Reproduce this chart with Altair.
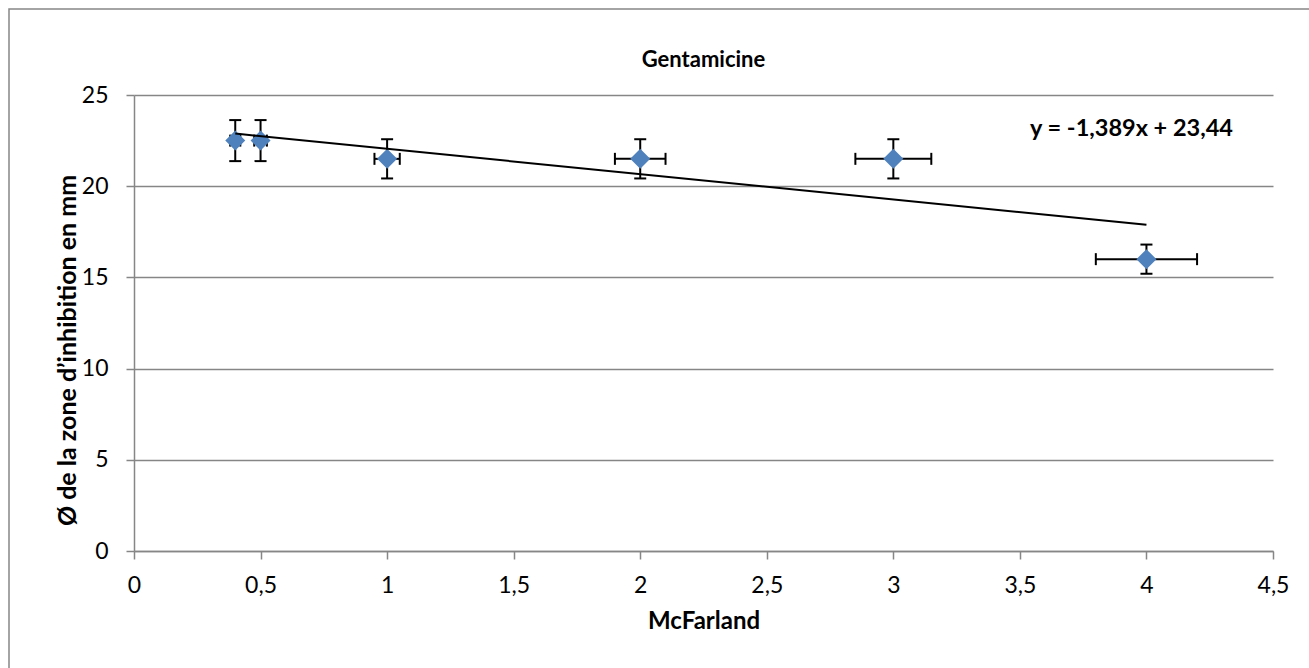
import altair as alt
import pandas as pd

# Data
mcfarland = [0.4, 0.5, 1, 2, 3, 4]
diametre = [22.5, 22.5, 21.5, 21.5, 21.5, 16]
err_x = [0.02, 0.025, 0.05, 0.1, 0.15, 0.2]
err_y = [1.125, 1.125, 1.075, 1.075, 1.075, 0.8]
x_ticks = [0, 0.5, 1, 1.5, 2, 2.5, 3, 3.5, 4, 4.5]
y_ticks = [0, 5, 10, 15, 20, 25]
chart_title = "Gentamicine"
x_title = "McFarland"
y_title = "Ø de la zone d’inhibition en mm"
equation = "y = -1,389x + 23,44"

df = pd.DataFrame({
    "x": mcfarland,
    "y": diametre,
    "ex": err_x,
    "ey": err_y,
})
df["xlo"] = df["x"] - df["ex"]
df["xhi"] = df["x"] + df["ex"]
df["ylo"] = df["y"] - df["ey"]
df["yhi"] = df["y"] + df["ey"]

FONT = "Lato"
GRAY = "#868686"
W, H = 1139, 456

xscale = alt.Scale(domain=[0, 4.5], nice=False, zero=False)
yscale = alt.Scale(domain=[0, 25], nice=False, zero=False)

xaxis = alt.Axis(
    values=x_ticks,
    labelExpr="replace(toString(datum.value), '.', ',')",
    title=x_title,
    grid=False,
    tickSize=8,
    tickColor=GRAY,
    tickWidth=1.5,
    domainColor=GRAY,
    domainWidth=1.5,
    labelFont=FONT,
    labelFontSize=23,
    labelColor="black",
    labelPadding=15,
    labelFlush=False,
    titleFont=FONT,
    titleFontSize=24,
    titleFontWeight="bold",
    titleColor="black",
    titleX=W / 2,
    titleY=70,
    titleAlign="center",
    titleBaseline="middle",
)
yaxis = alt.Axis(
    values=y_ticks,
    title=y_title,
    grid=True,
    gridColor=GRAY,
    gridWidth=1.3,
    tickSize=8,
    tickColor=GRAY,
    tickWidth=1.5,
    domainColor=GRAY,
    domainWidth=1.5,
    labelFont=FONT,
    labelFontSize=23,
    labelColor="black",
    labelPadding=18,
    labelFlush=False,
    titleFont=FONT,
    titleFontSize=25,
    titleFontWeight="bold",
    titleColor="black",
    titleAngle=270,
    titleX=-67,
    titleY=255,
    titleAlign="center",
    titleBaseline="middle",
)

base = alt.Chart(df)

X = alt.X("x:Q", scale=xscale, axis=xaxis)
Y = alt.Y("y:Q", scale=yscale, axis=yaxis)

vbars = base.mark_rule(color="black", strokeWidth=2).encode(
    x=X, y=alt.Y("ylo:Q", scale=yscale, axis=yaxis), y2="yhi:Q"
)
hbars = base.mark_rule(color="black", strokeWidth=2).encode(
    x=alt.X("xlo:Q", scale=xscale, axis=xaxis), x2="xhi:Q", y=Y
)
cap_lo = base.mark_tick(color="black", thickness=2, size=12, orient="horizontal", opacity=1).encode(
    x=X, y=alt.Y("ylo:Q", scale=yscale, axis=yaxis)
)
cap_hi = base.mark_tick(color="black", thickness=2, size=12, orient="horizontal", opacity=1).encode(
    x=X, y=alt.Y("yhi:Q", scale=yscale, axis=yaxis)
)
cap_l = base.mark_tick(color="black", thickness=2, size=12, orient="vertical", opacity=1).encode(
    x=alt.X("xlo:Q", scale=xscale, axis=xaxis), y=Y
)
cap_r = base.mark_tick(color="black", thickness=2, size=12, orient="vertical", opacity=1).encode(
    x=alt.X("xhi:Q", scale=xscale, axis=xaxis), y=Y
)

points = base.mark_point(shape="diamond", filled=True, size=400, color="#4F81BD", opacity=1).encode(
    x=X, y=Y
)

trend = base.transform_regression("x", "y").mark_line(color="black", strokeWidth=2).encode(
    x=X, y=Y
)

single = alt.Chart(pd.DataFrame({"t": [chart_title], "e": [equation]}))

title_mark = single.mark_text(
    font=FONT, fontSize=22, fontWeight="bold", color="black", align="center", baseline="alphabetic"
).encode(text="t:N", x=alt.value(W / 2), y=alt.value(-28))

eq_mark = single.mark_text(
    font=FONT, fontSize=23.5, fontWeight="bold", color="black", align="left", baseline="alphabetic"
).encode(text="e:N", x=alt.value(896), y=alt.value(41))

border = single.mark_rect(filled=False, stroke=GRAY, strokeWidth=1.5).encode(
    x=alt.value(-125), x2=alt.value(1300), y=alt.value(-86), y2=alt.value(700)
)

chart = alt.layer(
    border, vbars, hbars, cap_lo, cap_hi, cap_l, cap_r, points, trend, title_mark, eq_mark
).properties(
    width=W,
    height=H,
    autosize=alt.AutoSizeParams(type="none"),
    padding={"left": 134, "top": 95, "right": 36, "bottom": 117},
    background="white",
).configure_view(strokeWidth=0)

chart.save("out.html", embed_options={"renderer": "svg", "actions": False})
